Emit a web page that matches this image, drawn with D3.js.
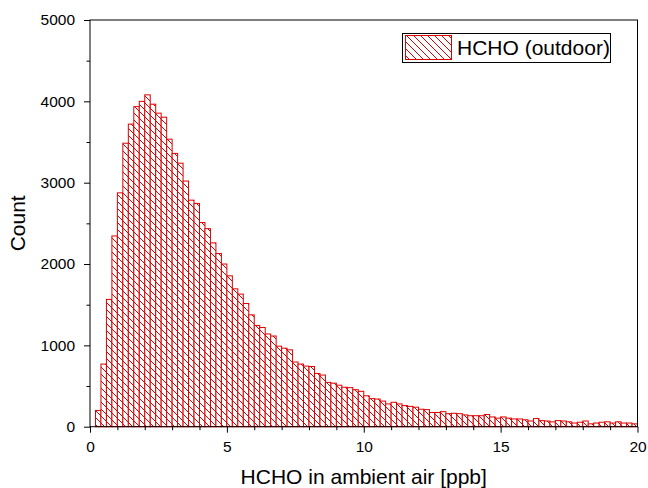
<!DOCTYPE html>
<html>
<head>
<meta charset="utf-8">
<script src="https://cdn.jsdelivr.net/npm/d3@7"></script>
<style>
  body { margin: 0; background: #fff; }
  text { font-family: "Liberation Sans", Arial, sans-serif; fill: #000; }
</style>
</head>
<body>
<script>
'use strict';

const WIDTH = 648;
const HEIGHT = 488;

// Histogram bins (ppb), width 0.2
const BIN_WIDTH = 0.2;
const COUNTS = [
    0, 200, 770, 1565, 2345, 2875, 3485, 3720, 3935, 4000,
    4080, 3965, 3855, 3805, 3535, 3360, 3240, 3020, 2785, 2745,
    2510, 2435, 2260, 2130, 2000, 1855, 1695, 1630, 1515, 1375,
    1245, 1220, 1140, 1115, 990, 965, 945, 795, 770, 745,
    740, 655, 635, 545, 535, 510, 485, 480, 455, 435,
    380, 345, 340, 315, 280, 300, 280, 260, 250, 240,
    215, 210, 175, 175, 185, 160, 165, 160, 145, 135,
    135, 135, 150, 120, 105, 120, 105, 95, 95, 85,
    70, 100, 75, 70, 60, 75, 70, 60, 45, 55,
    70, 35, 45, 55, 60, 45, 60, 45, 45, 35
];

const X_TICKS = [0, 5, 10, 15, 20];
const X_MINOR = d3.range(1, 20).filter(v => v % 5 !== 0);
const Y_TICKS = [0, 1000, 2000, 3000, 4000, 5000];
const Y_MINOR = [500, 1500, 2500, 3500, 4500];

const X_LABEL = 'HCHO in ambient air [ppb]';
const Y_LABEL = 'Count';
const LEGEND_LABEL = 'HCHO (outdoor)';

const RED = '#dd0000';

function main() {
    const x = d3.scaleLinear().domain([0, 20]).range([90, 637.5]);
    const y = d3.scaleLinear().domain([0, 5000]).range([426.7, 20]);

    const svg = d3.select('body').append('svg')
            .attr('width', WIDTH)
            .attr('height', HEIGHT);

    // Diagonal hatch pattern.
    const defs = svg.append('defs');
    const pattern = defs.append('pattern')
            .attr('id', 'hatch')
            .attr('patternUnits', 'userSpaceOnUse')
            .attr('width', 7)
            .attr('height', 7);
    pattern.append('rect').attr('width', 7).attr('height', 7).attr('fill', '#fff');
    pattern.append('path')
            .attr('d', 'M0,0 L7,7 M-1,6 L1,8 M6,-1 L8,1')
            .attr('stroke', RED)
            .attr('stroke-width', 1);

    const bins = COUNTS.map((c, i) => ({x0: i * BIN_WIDTH, x1: (i + 1) * BIN_WIDTH, count: c}))
            .filter(d => d.count > 0);

    svg.append('g').selectAll('rect')
            .data(bins)
            .enter()
            .append('rect')
            .attr('x', d => x(d.x0))
            .attr('y', d => y(d.count))
            .attr('width', d => x(d.x1) - x(d.x0))
            .attr('height', d => y(0) - y(d.count))
            .attr('fill', 'url(#hatch)')
            .attr('stroke', RED)
            .attr('stroke-width', 1);

    // Frame.
    svg.append('rect')
            .attr('x', x(0))
            .attr('y', y(5000))
            .attr('width', x(20) - x(0))
            .attr('height', y(0) - y(5000))
            .attr('fill', 'none')
            .attr('stroke', '#000')
            .attr('stroke-width', 1);

    // X axis.
    const xAxis = svg.append('g')
            .attr('transform', `translate(0,${y(0)})`)
            .call(d3.axisBottom(x).tickValues(X_TICKS).tickSize(6).tickPadding(8).tickFormat(d3.format('d')));
    svg.append('g')
            .attr('transform', `translate(0,${y(0)})`)
            .call(d3.axisBottom(x).tickValues(X_MINOR).tickSize(3.5).tickFormat(''));

    // Y axis.
    const yAxis = svg.append('g')
            .attr('transform', `translate(${x(0)},0)`)
            .call(d3.axisLeft(y).tickValues(Y_TICKS).tickSize(6).tickPadding(9).tickFormat(d3.format('d')));
    svg.append('g')
            .attr('transform', `translate(${x(0)},0)`)
            .call(d3.axisLeft(y).tickValues(Y_MINOR).tickSize(3.5).tickFormat(''));

    svg.selectAll('.domain').remove();
    svg.selectAll('.tick line').attr('stroke', '#000');
    svg.selectAll('.tick text')
            .style('font-size', '15.5px')
            .style('font-family', '"Liberation Sans", Arial, sans-serif');

    // Axis labels.
    svg.append('text')
            .attr('x', (x(0) + x(20)) / 2)
            .attr('y', 484)
            .attr('text-anchor', 'middle')
            .style('font-size', '21px')
            .text(X_LABEL);

    svg.append('text')
            .attr('transform', `translate(25,${(y(0) + y(5000)) / 2}) rotate(-90)`)
            .attr('text-anchor', 'middle')
            .style('font-size', '21px')
            .text(Y_LABEL);

    // Legend.
    const legend = svg.append('g');
    legend.append('rect')
            .attr('x', 402.5)
            .attr('y', 33.5)
            .attr('width', 208)
            .attr('height', 29)
            .attr('fill', '#fff')
            .attr('stroke', '#000')
            .attr('stroke-width', 1);
    legend.append('rect')
            .attr('x', 405.5)
            .attr('y', 35.5)
            .attr('width', 46)
            .attr('height', 24)
            .attr('fill', 'url(#hatch)')
            .attr('stroke', RED)
            .attr('stroke-width', 1);
    legend.append('text')
            .attr('x', 457)
            .attr('y', 55)
            .style('font-size', '21px')
            .text(LEGEND_LABEL);
}

document.addEventListener('DOMContentLoaded', function() {
    main();
});
</script>
</body>
</html>
